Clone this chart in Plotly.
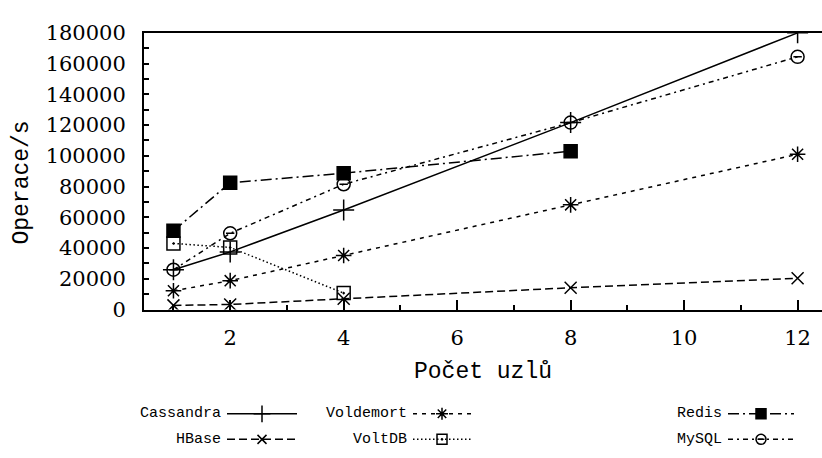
import plotly.graph_objects as go

nodes = [1, 2, 4, 8, 12]
cassandra = [25900, 37500, 64800, 121600, 180000]
hbase = [2700, 3300, 7000, 14200, 20400]
voldemort = [12200, 18800, 35200, 68100, 101000]
voltdb_nodes = [1, 2, 4]
voltdb = [43000, 40400, 10700]
redis_nodes = [1, 2, 4, 8]
redis = [51200, 82500, 88700, 103000]
mysql = [25900, 49600, 81500, 121600, 164400]

x_ticks = [2, 4, 6, 8, 10, 12]
y_ticks = [0, 20000, 40000, 60000, 80000, 100000, 120000, 140000, 160000, 180000]

series = [
    ("Cassandra", nodes, cassandra, "solid", "cross-thin", 15, "black"),
    ("HBase", nodes, hbase, "8px,4px", "x-thin", 12, "black"),
    ("Voldemort", nodes, voldemort, "4px,5px", "asterisk", 13, "black"),
    ("VoltDB", voltdb_nodes, voltdb, "1.5px,2.5px", "square-open-dot", 13, "black"),
    ("Redis", redis_nodes, redis, "11px,4px,2px,4px", "square", 13, "black"),
    ("MySQL", nodes, mysql, "5px,4px,2px,4px", "circle-open", 13, "black"),
]

MONO = "Liberation Mono"
SERIF = "DejaVu Serif"
W, H = 822, 458
LEG_H = 120

fig = go.Figure()
for name, xs, ys, dash, sym, size, col in series:
    fig.add_trace(go.Scatter(
        x=xs, y=ys, mode="lines+markers", name=name, showlegend=False,
        line=dict(color="black", width=1.5, dash=dash),
        marker=dict(symbol=sym, size=size, color=col,
                    line=dict(color="black", width=1.5)),
    ))
# small bar inside MySQL circles
fig.add_trace(go.Scatter(x=nodes, y=mysql, mode="markers", showlegend=False,
                         marker=dict(symbol="line-ew", size=6,
                                     line=dict(color="black", width=1.5))))

# Custom gnuplot-style legend (text left of sample) on a hidden axis pair
legend_layout = [
    ("Cassandra", 0, 0), ("Voldemort", 1, 0), ("Redis", 2, 0),
    ("HBase", 0, 1), ("VoltDB", 1, 1), ("MySQL", 2, 1),
]
sample_x0 = [227, 413, 728]
sample_w = [70, 58, 66]
row_y = [424, 451]
style = {s[0]: s for s in series}
for name, c, r in legend_layout:
    _, _, _, dash, sym, size, col = style[name]
    x0 = sample_x0[c]
    x1 = x0 + sample_w[c]
    yy = H - row_y[r]
    fig.add_trace(go.Scatter(
        x=[x0, (x0 + x1) / 2, x1], y=[yy, yy, yy], xaxis="x2", yaxis="y2",
        mode="lines", showlegend=False, hoverinfo="skip",
        line=dict(color="black", width=1.5, dash=dash)))
    fig.add_trace(go.Scatter(
        x=[(x0 + x1) / 2], y=[yy], xaxis="x2", yaxis="y2",
        mode="markers", showlegend=False, hoverinfo="skip",
        marker=dict(symbol=sym, size=size - 3, color=col,
                    line=dict(color="black", width=1.5))))
    if name == "MySQL":
        fig.add_trace(go.Scatter(
            x=[(x0 + x1) / 2], y=[yy], xaxis="x2", yaxis="y2",
            mode="markers", showlegend=False, hoverinfo="skip",
            marker=dict(symbol="line-ew", size=5, line=dict(color="black", width=1.5))))
    fig.add_annotation(x=x0 - 4, y=yy, xref="x2", yref="y2", text=name,
                       showarrow=False, xanchor="right", yanchor="middle",
                       font=dict(family=MONO, size=15, color="black"))

# y-axis title, placed like gnuplot's ylabel
fig.add_annotation(x=22 / W, y=1 - 180 / H, xref="paper", yref="paper",
                   xanchor="center", yanchor="middle",
                   text="Operace/s", textangle=-90, showarrow=False,
                   font=dict(family=MONO, size=23, color="black"))

fig.update_layout(
    width=W, height=H,
    margin=dict(l=0, r=0, t=0, b=0),
    paper_bgcolor="white", plot_bgcolor="rgba(0,0,0,0)",
    xaxis=dict(
        domain=[144 / W, 1.0],
        range=[0.481, 12.43], tickvals=x_ticks, ticktext=[str(v) for v in x_ticks],
        ticks="inside", ticklen=10, tickwidth=1.5, tickcolor="black",
        minor=dict(tickvals=[1, 3, 5, 7, 9, 11], ticks="inside", ticklen=5,
                   tickwidth=1.5, tickcolor="black"),
        showline=True, linecolor="black", linewidth=2, mirror=True,
        showgrid=False, zeroline=False, ticklabelstandoff=8,
        tickfont=dict(family=SERIF, size=21, color="black"),
        title=dict(text="Počet uzlů", font=dict(family=MONO, size=23, color="black"),
                   standoff=13),
    ),
    yaxis=dict(
        domain=[(H - 314) / H, 1 - 22 / H],
        range=[0, 180000], tickvals=y_ticks, ticktext=[str(v) for v in y_ticks],
        ticks="inside", ticklen=5, tickwidth=1.5, tickcolor="black",
        minor=dict(dtick=10000, tick0=0, ticks="inside", ticklen=5,
                   tickwidth=1.5, tickcolor="black"),
        showline=True, linecolor="black", linewidth=2, mirror=False,
        showgrid=False, zeroline=False, ticklabelstandoff=12,
        tickfont=dict(family=SERIF, size=21, color="black"),
    ),
    xaxis2=dict(domain=[0, 1], range=[0, W], anchor="y2",
                visible=False, fixedrange=True),
    yaxis2=dict(domain=[0, LEG_H / H], range=[0, LEG_H], anchor="x2",
                visible=False, fixedrange=True),
    showlegend=False,
)
fig.write_html("out.html")
